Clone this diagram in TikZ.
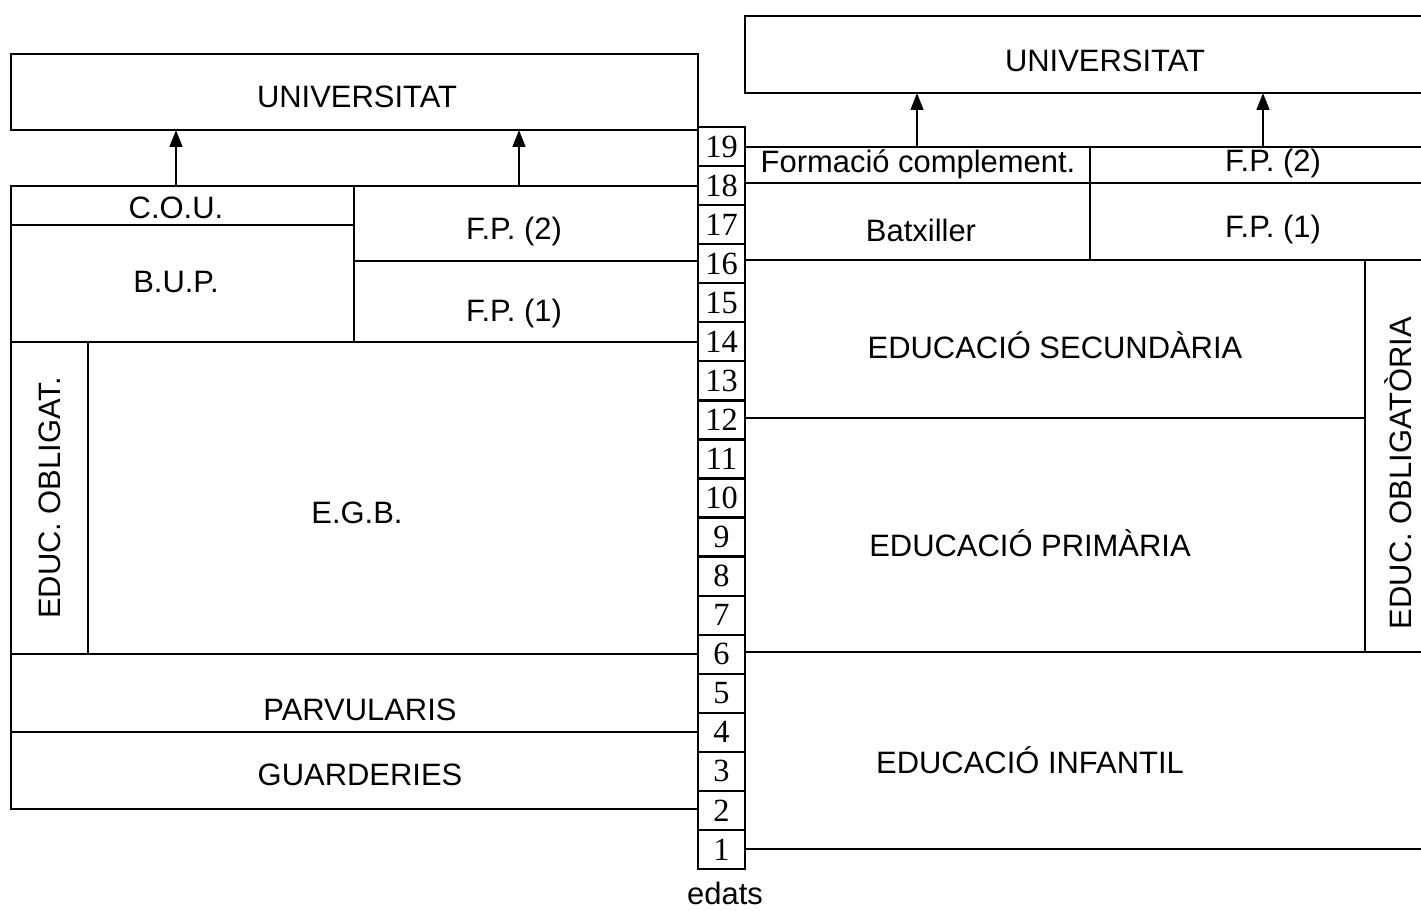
\documentclass[tikz,border=0pt]{standalone}
\usepackage{fontspec}
\setmainfont{Liberation Sans}
\newfontfamily\numfont{Liberation Serif}
\usetikzlibrary{arrows.meta}
\tikzset{
  lab/.style={font=\fontsize{22}{26}\selectfont, inner sep=0pt},
  vlab/.style={lab, rotate=90},
  ageBox/.style={draw, line width=1.6pt, minimum width=1.175cm, minimum height=0.976cm,
    inner sep=0pt, font=\numfont\fontsize{23}{26}\selectfont},
  frame/.style={line width=1.6pt},
  up/.style={line width=1.6pt, -{Triangle[length=12pt,width=9pt]}}
}

\begin{document}
\begin{tikzpicture}[x=0.025cm, y=-0.025cm]
\useasboundingbox (0,0) rectangle (1421,911);

% edats
\foreach \n in {1,...,19}
  \node[ageBox] (age\n) at (721.5,{869-(\n-0.5)*39.05}) {\n};
\node[lab] (edats) at (725,893) {edats};

% sistema actual (esquerra)
\draw[frame] (11,54) rectangle (698,130);
\node[lab] (uniL) at (357,97) {UNIVERSITAT};
\draw[frame] (11,186) rectangle (698,809);
\draw[frame] (11,225) -- (354,225);
\draw[frame] (354,186) -- (354,342);
\draw[frame] (354,261) -- (698,261);
\draw[frame] (11,342) -- (698,342);
\draw[frame] (88,342) -- (88,654);
\draw[frame] (11,654) -- (698,654);
\draw[frame] (11,732) -- (698,732);
\node[lab] (cou) at (176,208) {C.O.U.};
\node[lab] (bup) at (176,282) {B.U.P.};
\node[lab] (fp2L) at (514,231) {F.P. (2)};
\node[lab] (fp1L) at (514,313) {F.P. (1)};
\node[vlab] (oblL) at (50,498) {EDUC. OBLIGAT.};
\node[lab] (egb) at (357,513) {E.G.B.};
\node[lab] (parv) at (360,710) {PARVULARIS};
\node[lab] (guard) at (360,775) {GUARDERIES};
\coordinate (aL1) at (176,186);
\coordinate (bL1) at (176,130);
\coordinate (aL2) at (519,186);
\coordinate (bL2) at (519,130);
\draw[up] (aL1) -- (bL1);
\draw[up] (aL2) -- (bL2);

% sistema nou (dreta)
\draw[frame] (1421,16) -- (745,16) -- (745,93) -- (1421,93);
\node[lab] (uniR) at (1105,61) {UNIVERSITAT};
\draw[frame] (1421,147) -- (745,147) -- (745,849) -- (1421,849);
\draw[frame] (745,183) -- (1421,183);
\draw[frame] (1090,147) -- (1090,260);
\draw[frame] (745,260) -- (1421,260);
\draw[frame] (745,418) -- (1365,418);
\draw[frame] (1365,260) -- (1365,652);
\draw[frame] (745,652) -- (1421,652);
\node[lab] (formComp) at (918,164) {Formació complement.};
\node[lab] (fp2R) at (1273,163) {F.P. (2)};
\node[lab] (batx) at (921,230) {Batxiller};
\node[lab] (fp1R) at (1273,229) {F.P. (1)};
\node[lab] (secund) at (1055,345) {EDUCACIÓ SECUNDÀRIA};
\node[lab] (prim) at (1030,543) {EDUCACIÓ PRIMÀRIA};
\node[vlab] (oblR) at (1398,473) {EDUC. OBLIGATÒRIA};
\node[lab] (infant) at (1030,760) {EDUCACIÓ INFANTIL};
\coordinate (aR1) at (917,147);
\coordinate (bR1) at (917,93);
\coordinate (aR2) at (1263,147);
\coordinate (bR2) at (1263,93);
\draw[up] (aR1) -- (bR1);
\draw[up] (aR2) -- (bR2);
\end{tikzpicture}
\end{document}
